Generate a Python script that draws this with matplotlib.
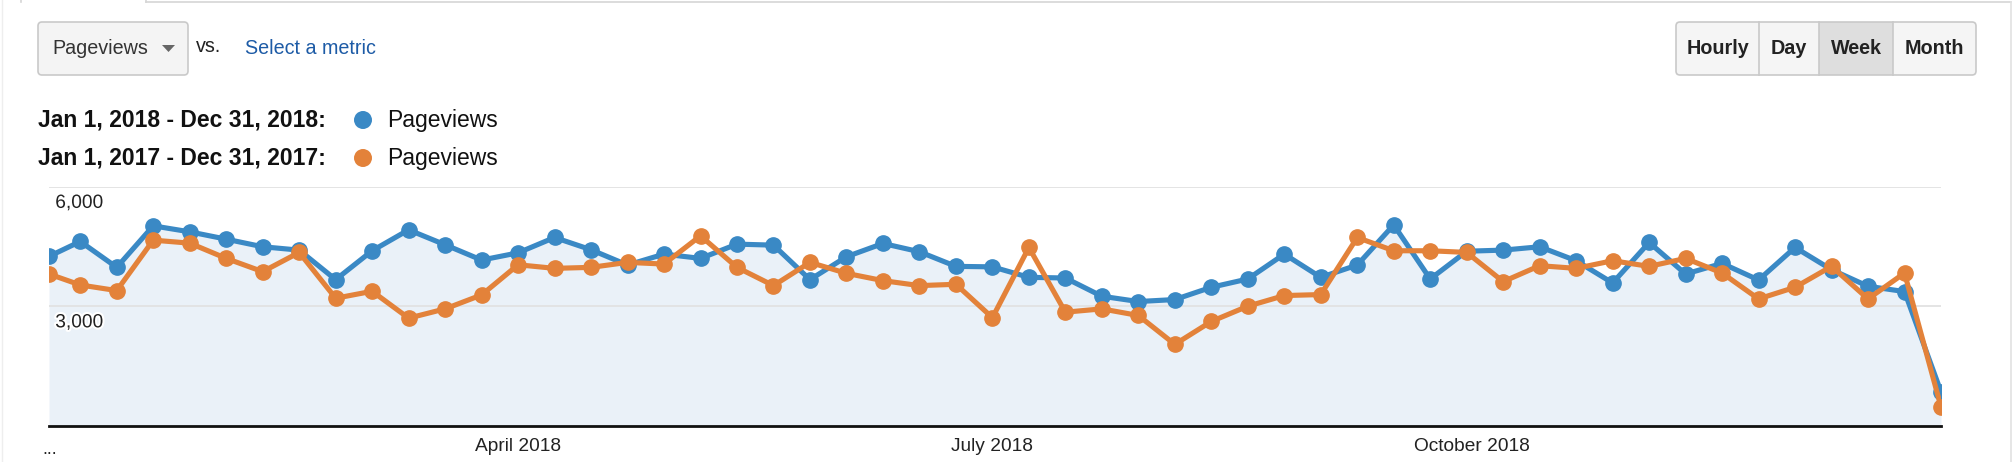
import matplotlib
matplotlib.use("Agg")
import matplotlib.pyplot as plt
import matplotlib.patheffects as pe
from matplotlib.patches import FancyBboxPatch, Rectangle, Circle, Polygon
import pandas as pd

# weekly pageviews, GA style week view (first point is the partial week Jan 1)
dates = [pd.Timestamp("2018-01-01")] + list(pd.date_range("2018-01-07", "2018-12-30", freq="7D"))

views_2018 = [4250, 4625, 3975, 5017, 4867, 4683, 4492, 4408, 3667, 4392,
              4917, 4542, 4158, 4340, 4725, 4417, 4033, 4308, 4200, 4558,
              4533, 3667, 4242, 4575, 4367, 4000, 3988, 3725, 3708, 3250,
              3117, 3167, 3475, 3683, 4308, 3725, 4033, 5042, 3683, 4380,
              4408, 4492, 4142, 3583, 4600, 3808, 4075, 3658, 4475, 3917,
              3500, 3367, 850]
views_2017 = [3808, 3533, 3392, 4658, 4583, 4200, 3867, 4350, 3200, 3375,
              2700, 2933, 3283, 4040, 3950, 3975, 4100, 4058, 4767, 3975,
              3517, 4100, 3825, 3642, 3517, 3550, 2712, 4475, 2850, 2933,
              2767, 2042, 2617, 3000, 3267, 3292, 4725, 4392, 4392, 4350,
              3617, 4017, 3950, 4142, 4000, 4200, 3833, 3183, 3475, 4000,
              3183, 3833, 475]

month_ticks = ["2018-04-01", "2018-07-01", "2018-10-01"]
month_labels = ["April 2018", "July 2018", "October 2018"]
y_ticks = [3000, 6000]
y_labels = ["3,000", "6,000"]
legend_rows = ["Jan 1, 2018 - Dec 31, 2018:", "Jan 1, 2017 - Dec 31, 2017:"]
buttons = ["Hourly", "Day", "Week", "Month"]

BLUE = "#3a89c5"
ORANGE = "#e3823a"
FILL = "#eaf1f8"

plt.rcParams["font.family"] = ["Liberation Sans", "DejaVu Sans"]

W, H = 2014, 462
fig = plt.figure(figsize=(W / 100, H / 100), dpi=100)

# overlay in pixel coords for the page widgets
ui = fig.add_axes([0, 0, 1, 1])
ui.set_xlim(0, W)
ui.set_ylim(H, 0)
ui.axis("off")

# page borders / tab
ui.plot([146, 2011], [2, 2], color="#d6d6d6", lw=1.2)
ui.plot([21, 21], [0, 2], color="#d6d6d6", lw=1.2)
ui.plot([146, 146], [0, 2], color="#d6d6d6", lw=1.2)
ui.plot([2011, 2011], [2, H], color="#e2e2e2", lw=1.2)
ui.plot([2, 2], [0, H], color="#eeeeee", lw=1.0)

# metric dropdown
ui.add_patch(FancyBboxPatch((38, 22), 150, 53, boxstyle="round,pad=0,rounding_size=4",
                            fc="#f4f4f4", ec="#c9c9c9", lw=1.2))
ui.text(52, 49, "Pageviews", fontsize=14.2, color="#333333", va="center")
ui.add_patch(Polygon([[162, 45], [175, 45], [168.5, 52]], closed=True, fc="#666666", ec="none"))
ui.text(196, 47, "vs.", fontsize=14.2, color="#222222", va="center")
ui.text(245, 49, "Select a metric", fontsize=14.2, color="#1d5ba6", va="center")

# granularity buttons
bx = [1676, 1759, 1819, 1893, 1976]
for i, lab in enumerate(buttons):
    fc = "#dedede" if lab == "Week" else "#f5f5f5"
    ui.add_patch(Rectangle((bx[i], 22), bx[i + 1] - bx[i], 53, fc=fc, ec="none"))
    ui.text((bx[i] + bx[i + 1]) / 2, 49, lab, fontsize=14.2, fontweight="bold",
            color="#222222", ha="center", va="center")
ui.add_patch(FancyBboxPatch((1676, 22), 300, 53, boxstyle="round,pad=0,rounding_size=4",
                            fc="none", ec="#c9c9c9", lw=1.2))
for x in bx[1:-1]:
    ui.plot([x, x], [22, 75], color="#c9c9c9", lw=1.2)

# legend
for row, (lab, col) in enumerate(zip(legend_rows, [BLUE, ORANGE])):
    y = 120 + row * 38
    ui.text(38, y, lab, fontsize=16.5, fontweight="bold", color="#111111", va="center")
    ui.add_patch(Circle((363, y), 9, fc=col, ec="none"))
    ui.text(387, y, "Pageviews", fontsize=16.5, color="#111111", va="center")

ui.text(42, 450, "...", fontsize=13, color="#222222", va="center")

# chart
ax = fig.add_axes([49 / W, 1 - 425.7 / H, (1941 - 49) / W, (425.7 - 186.7) / H])
ax.patch.set_alpha(0)
ax.set_xlim(dates[0], dates[-1])
ax.set_ylim(0, 6000)

ax.fill_between(dates, views_2018, 0, color=FILL, lw=0, zorder=1)
for yv in y_ticks:
    ax.axhline(yv, color="#e2e2e2", lw=1.3, zorder=1.5)
ax.plot(dates, views_2018, color=BLUE, lw=3.7, marker="o", ms=11,
        solid_joinstyle="round", zorder=3)
ax.plot(dates, views_2017, color=ORANGE, lw=3.7, marker="o", ms=11,
        solid_joinstyle="round", zorder=4)

for yv, lab in zip(y_ticks, y_labels):
    ax.annotate(lab, xy=(0, yv), xycoords=ax.get_yaxis_transform(),
                xytext=(4.5, -12), textcoords="offset points",
                fontsize=13.8, color="#222222", va="center", ha="left", zorder=5,
                path_effects=[pe.withStroke(linewidth=3, foreground="white")])

for s in ["top", "right", "left"]:
    ax.spines[s].set_visible(False)
ax.spines["bottom"].set_color("#111111")
ax.spines["bottom"].set_linewidth(2)
ax.spines["bottom"].set_zorder(6)

ax.set_yticks([])
ax.set_xticks(pd.to_datetime(month_ticks))
ax.set_xticklabels(month_labels, fontsize=13.8, color="#222222")
ax.tick_params(axis="x", length=0, pad=9)

fig.savefig("out.png", dpi=100)
